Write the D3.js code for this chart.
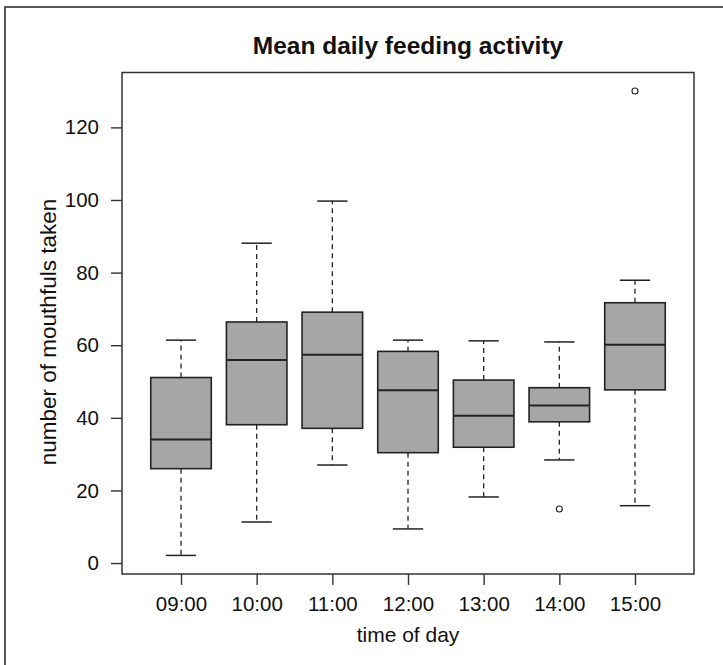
<!DOCTYPE html>
<html>
<head>
<meta charset="utf-8">
<script src="https://cdn.jsdelivr.net/npm/d3@7"></script>
<style>
  html, body { margin: 0; padding: 0; background: #fff; }
  text { font-family: "Liberation Sans", Arial, Helvetica, sans-serif; fill: #111; }
</style>
</head>
<body>
<div id="chart"></div>
<script>
// values
const times = ["09:00", "10:00", "11:00", "12:00", "13:00", "14:00", "15:00"];
const whiskerLow = [2.1, 11.3, 27.0, 9.4, 18.2, 28.4, 15.8];
const q1 = [26.0, 38.1, 37.1, 30.4, 31.9, 38.9, 47.7];
const median = [34.0, 55.9, 57.4, 47.6, 40.6, 43.4, 60.1];
const q3 = [51.1, 66.4, 69.1, 58.3, 50.4, 48.3, 71.7];
const whiskerHigh = [61.4, 88.1, 99.7, 61.4, 61.2, 60.9, 77.9];
const outlierTimes = ["14:00", "15:00"];
const outlierValues = [14.9, 130];
const yTicks = [0, 20, 40, 60, 80, 100, 120];

const boxes = times.map((t, i) => ({
  time: t, lo: whiskerLow[i], q1: q1[i], med: median[i], q3: q3[i], hi: whiskerHigh[i]
}));
const outliers = outlierTimes.map((t, i) => ({ time: t, value: outlierValues[i] }));

const width = 723, height = 665;
const plot = { left: 122, right: 694, top: 72.5, bottom: 574 };

const svg = d3.select("#chart").append("svg")
  .attr("width", width)
  .attr("height", height);

// outer frame (runs off the right/bottom edge like the reference)
svg.append("rect")
  .attr("x", 5).attr("y", 7)
  .attr("width", 740).attr("height", 700)
  .attr("fill", "none")
  .attr("stroke", "#222")
  .attr("stroke-width", 1.5);

const x = d3.scalePoint()
  .domain(times)
  .range([plot.left, plot.right])
  .padding(0.78);

const allVals = whiskerLow.concat(whiskerHigh, outlierValues);
const ymin = d3.min(allVals), ymax = d3.max(allVals);
const pad = (ymax - ymin) * 0.04;
const y = d3.scaleLinear()
  .domain([ymin - pad, ymax + pad])
  .range([plot.bottom, plot.top]);

const step = x.step();
const boxW = step * 0.8;
const capW = boxW * 0.5;

const g = svg.append("g");

// whiskers
g.selectAll("line.whisk-up")
  .data(boxes).enter().append("line")
  .attr("x1", d => x(d.time)).attr("x2", d => x(d.time))
  .attr("y1", d => y(d.q3)).attr("y2", d => y(d.hi))
  .attr("stroke", "#222").attr("stroke-width", 1.3)
  .attr("stroke-dasharray", "5,4");

g.selectAll("line.whisk-down")
  .data(boxes).enter().append("line")
  .attr("x1", d => x(d.time)).attr("x2", d => x(d.time))
  .attr("y1", d => y(d.q1)).attr("y2", d => y(d.lo))
  .attr("stroke", "#222").attr("stroke-width", 1.3)
  .attr("stroke-dasharray", "5,4");

// staples
["hi", "lo"].forEach(k => {
  g.selectAll("line.cap-" + k)
    .data(boxes).enter().append("line")
    .attr("x1", d => x(d.time) - capW / 2).attr("x2", d => x(d.time) + capW / 2)
    .attr("y1", d => y(d[k])).attr("y2", d => y(d[k]))
    .attr("stroke", "#222").attr("stroke-width", 1.5);
});

// boxes
g.selectAll("rect.box")
  .data(boxes).enter().append("rect")
  .attr("x", d => x(d.time) - boxW / 2)
  .attr("width", boxW)
  .attr("y", d => y(d.q3))
  .attr("height", d => y(d.q1) - y(d.q3))
  .attr("fill", "#a6a6a6")
  .attr("stroke", "#222")
  .attr("stroke-width", 1.6);

// medians
g.selectAll("line.med")
  .data(boxes).enter().append("line")
  .attr("x1", d => x(d.time) - boxW / 2).attr("x2", d => x(d.time) + boxW / 2)
  .attr("y1", d => y(d.med)).attr("y2", d => y(d.med))
  .attr("stroke", "#222").attr("stroke-width", 2);

// outliers
g.selectAll("circle.out")
  .data(outliers).enter().append("circle")
  .attr("cx", d => x(d.time))
  .attr("cy", d => y(d.value))
  .attr("r", 3)
  .attr("fill", "none")
  .attr("stroke", "#222")
  .attr("stroke-width", 1.1);

// plot frame
svg.append("rect")
  .attr("x", plot.left).attr("y", plot.top)
  .attr("width", plot.right - plot.left)
  .attr("height", plot.bottom - plot.top)
  .attr("fill", "none")
  .attr("stroke", "#333")
  .attr("stroke-width", 1.5);

// axes
const yAxis = svg.append("g")
  .attr("transform", `translate(${plot.left},0)`)
  .call(d3.axisLeft(y).tickValues(yTicks).tickSize(11).tickPadding(12));
yAxis.select(".domain").remove();

const xAxis = svg.append("g")
  .attr("transform", `translate(0,${plot.bottom})`)
  .call(d3.axisBottom(x).tickSize(11).tickPadding(11));
xAxis.select(".domain").remove();

svg.selectAll(".tick line").attr("stroke", "#333").attr("stroke-width", 1.4);
svg.selectAll(".tick text")
  .attr("font-family", "'Liberation Sans', Arial, sans-serif")
  .attr("font-size", "20.5px")
  .attr("fill", "#111");

// titles
svg.append("text")
  .attr("x", (plot.left + plot.right) / 2)
  .attr("y", 54)
  .attr("text-anchor", "middle")
  .attr("font-size", "24.5px")
  .attr("font-weight", "bold")
  .text("Mean daily feeding activity");

svg.append("text")
  .attr("x", (plot.left + plot.right) / 2)
  .attr("y", 641.5)
  .attr("text-anchor", "middle")
  .attr("font-size", "21px")
  .text("time of day");

svg.append("text")
  .attr("transform", "translate(56,332) rotate(-90)")
  .attr("text-anchor", "middle")
  .attr("font-size", "22.5px")
  .text("number of mouthfuls taken");
</script>
</body>
</html>
